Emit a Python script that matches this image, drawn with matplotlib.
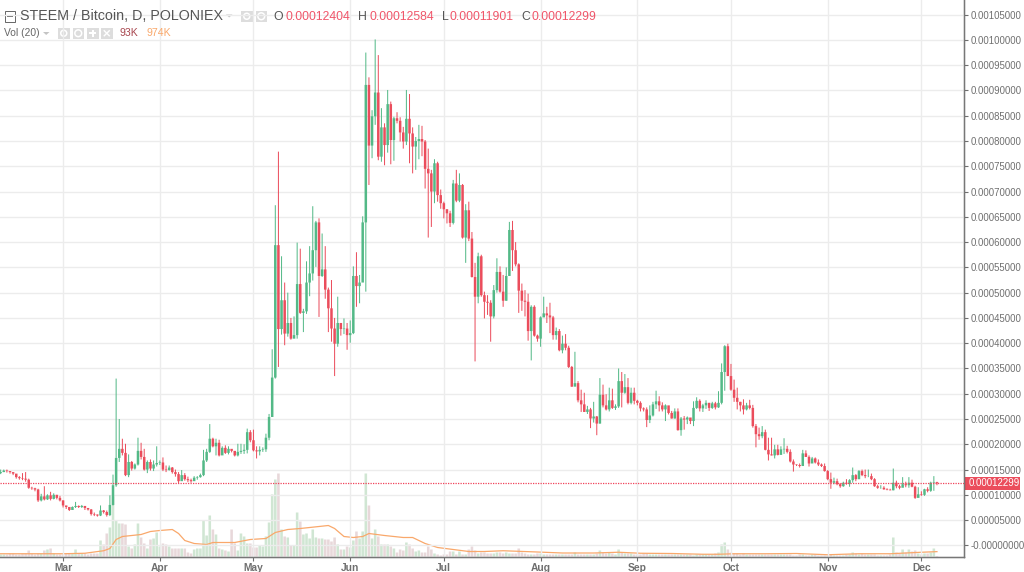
import numpy as np
import pandas as pd
import matplotlib
matplotlib.use("Agg")
import matplotlib.pyplot as plt
from matplotlib.patches import Rectangle, Polygon, Circle

plt.rcParams['font.family'] = ['Liberation Sans', 'DejaVu Sans']

# daily candles, prices in 1e-5 BTC, one row = 10 days
closes = [14.5,14.8,14.7,14.5,14.2,13.5,13.3,13.2,13.0,11.4,
    11.3,11.05,8.9,9.7,9.1,9.9,9.2,10.0,9.4,8.9,
    7.9,7.6,7.0,7.6,7.8,7.6,7.8,7.4,7.1,6.2,
    6.1,5.9,6.9,6.6,6.0,8.0,11.9,17.3,19.1,18.3,
    13.9,16.5,15.2,16,18.7,17.5,15,16.5,15.2,16,
    16.3,16.4,15,14.9,15.4,14.5,14.1,12.7,13.9,13.1,
    12.9,12.7,13.4,13.5,13.9,16.8,18.5,21.1,19.6,20.3,
    17.8,19.3,18.3,19.1,18.7,17.8,18.5,18.7,18.9,22.4,
    20.8,18.8,18.6,18.9,19.0,21.3,25.4,33.2,59.4,42.8,
    48.5,41.9,44,40.9,41.6,51.7,46,46.3,52,53.8,
    58.4,63.9,53.3,54.6,50.6,46.9,42.9,39.9,44,42.8,
    42.9,41.6,42,53.3,51.3,52,63.9,91.1,79.1,84.9,
    89.6,76.9,82.7,79.2,87.3,80.2,84.5,84,81.7,79.9,
    84.4,81.5,78.9,80,80.4,79.9,74.5,73.6,70,75.6,
    69.3,67.7,66.5,65.7,63.8,71.6,68.2,71.3,60.9,66.3,
    60.7,53.1,49.2,57.2,49.5,48.2,48,45.3,50.5,54.1,
    50.2,48.4,53.3,62.4,58.4,55.6,50.4,48.4,48.2,42.4,
    47.2,41.5,40.9,45.1,45.9,45.5,45.1,41.6,42.4,38.6,
    39.9,39.1,35.3,31.4,32.1,28.7,27.9,26.4,26.9,25.1,
    25.5,24.1,29.8,27.7,26.9,28.7,27.2,27.5,32.5,30.2,
    31.3,28.2,30.2,28.6,28.2,27.1,26.9,24.8,25.7,27.9,
    28.5,27.7,26.9,27.7,26.2,25.1,26.5,22.8,25.1,24.9,
    25.3,24.6,27.2,28.6,27.1,27.7,28.2,27.2,28.1,27.3,
    28.2,34.3,39.4,33.5,30.8,29.2,28.4,27.7,26.9,27.7,
    27.2,23.6,22,21.6,22.4,18.9,18,17.8,19,17.9,
    19,19.1,18.5,16.6,16,15.9,15.7,18.2,17.5,16.2,
    17.2,16.4,16,15.7,14.7,13.1,12.4,12.7,12.1,11.7,
    12.4,12.2,12.9,13.9,13.1,14.7,13.9,13.7,13.7,13.1,
    11.7,11.4,11.4,11.1,11,10.9,12.4,11.7,11.4,12.1,
    11.9,12.4,11.6,9.4,10.1,10,11.1,10.8,12.4,12.5,
    12.299]
highs = [15.0,15.0,15.0,14.7,14.4,14.0,13.7,14.3,14.5,13.2,
    11.6,11.4,11.2,10.2,11.7,10.1,10.6,10.3,10.0,9.8,
    8.9,7.8,7.5,7.7,8.6,7.9,8.0,7.8,7.4,7.2,
    6.5,6.1,7.9,7.0,6.9,9.9,14.0,33.0,25.0,21.1,
    20.1,18,16.7,16.2,21.3,20.3,19.1,16.8,17,16.8,
    19.6,16.8,17.4,15.8,15.8,15.5,15.0,14.5,14.9,14.3,
    13.6,13.2,13.7,13.7,14.2,18.9,19.1,24,21.3,21.1,
    20.9,19.6,19.8,19.6,18.9,18.5,20.1,20.1,20.0,23.1,
    22.8,22.9,19.6,19.6,19.4,22.1,26.0,38.8,67.3,77.9,
    57.2,52,50,45,45.3,59.9,58.7,46.8,56.2,59.2,
    67.1,64.2,64.7,61.7,59.2,51.0,52.5,45,49.2,44.0,
    44.9,44,44.5,55.2,58,53.5,65.1,97.5,92.6,86.1,
    100.1,97,86.5,83.5,90.1,87.8,84.8,85.7,84.7,82.8,
    90.1,89.3,82.7,80.8,83.2,83,80.2,78.5,74.3,76.4,
    75.9,70.4,68,66.5,66.2,72.3,74.3,73.6,71.5,67.5,
    68,62,55.9,57.9,57.5,50.2,49.5,48.5,51.5,56.8,
    55.2,53.5,55,64,64.2,60,55.8,51.8,50.5,49.8,
    47.5,47.5,41.7,45.3,49.2,47.2,48,45.4,43.1,42.8,
    41.5,41.8,39.5,35.5,38.3,32.5,30.8,30.2,27.6,27.2,
    28.4,25.6,33.1,31.8,29.9,31.2,31,27.9,35,34.3,
    33.9,33.1,31.2,31.2,28.8,28.5,27.3,27.3,27.7,28.4,
    30.6,29.5,28.3,27.9,27.1,26.6,27.1,27.1,25.4,25.6,
    25.5,25.2,28.5,29.3,28.9,28,28.7,28.2,28.4,28.4,
    30.5,36,39.6,39.9,35.9,32.8,31.2,28.4,28.9,28.2,
    28.8,27.8,24,23.3,23.6,22.9,21.3,21.3,19.9,19.9,
    19.6,21.2,19.7,19,17,16,16.2,18.9,18.8,17.8,
    17.5,17.4,17,16.2,16.2,14.9,14.4,13.4,13.2,12.3,
    12.6,13.1,13.1,15.4,14.1,14.9,15,15,15,14.2,
    13.3,12.0,11.9,11.7,11.3,11.2,15.2,12.8,12,13.5,
    12.6,13.5,13,11.8,11.5,10.7,11.2,11.5,12.6,13.7,
    12.584]
lows = [14.1,14.5,14.4,14.2,13.9,13.2,13.0,12.9,12.6,11.2,
    11.0,10.7,8.6,8.7,8.9,9.0,8.9,9.1,9.1,8.7,
    7.5,7.2,6.8,7.0,7.4,7.4,7.4,7.0,6.9,5.9,
    5.8,5.7,5.8,6.3,5.7,5.8,7.9,11.6,16.5,17.8,
    13.7,13.5,14.8,15.0,15.8,17.0,14.8,14.3,14.8,14.7,
    15.6,15.9,14.7,14.5,14.8,14.2,13.6,12.3,12.8,12.8,
    12.5,12.4,12.8,13.0,13.4,13.7,16.5,18.3,19.4,17.8,
    17.6,18.5,18.1,18.0,18.4,17.6,17.6,18.1,18.1,18.2,
    20.4,18.6,17.2,17.8,18.5,18.5,20.8,27.5,33,35.3,
    41.7,39.6,41.3,40.7,41,40.9,45.8,42.2,45.8,49.3,
    52.4,55.1,45.2,53.1,48.8,42.2,40.3,33.5,39.3,41.5,
    41.8,38.7,40.1,41.8,47.2,47.9,52.9,50.2,71.3,76.6,
    83.2,76.2,75.9,75.2,77.7,75.4,76.1,83.5,79.9,78.5,
    79.2,75.6,73.6,74.3,76.4,77,70.6,60.9,63,67.7,
    68,66.6,64.7,63.7,63,63.5,67.9,67.9,60.7,55.9,
    60.2,53,36.4,47.9,49.2,44.9,45.6,40.3,44.9,50,
    50,47.2,48.4,53.3,54.3,55.2,46,46.4,45.3,40.5,
    36.6,41.3,40.3,39.3,45.2,44,42,40.7,40.7,38.4,
    38,38.6,35.1,31.4,32,28.3,26.4,26.4,26,23.2,
    24.3,21.8,24.1,27.3,26.7,26.5,27,26.8,27.2,27.3,
    30,27.9,27.9,27.9,27.7,26.5,26.5,23.4,24.2,25.5,
    27,26.5,26.5,24.6,25.9,25.1,25.1,22.7,21.7,22.9,
    24.0,24,23.6,27,26.5,26.4,27,26.6,27,26.9,
    27.2,27.9,30.6,33.5,30.6,28.4,26.9,26.5,25.9,26.7,
    26.9,23.3,19.4,20.9,21.2,18.8,16.8,17.8,17.2,17.8,
    18.1,18.1,18.2,16.4,14.6,15.7,15.4,17.5,17.5,15.6,
    17,16.2,15.7,15.5,14.6,12.9,11.2,12.1,11.9,11.4,
    11.6,12,11.6,12.4,12.7,13.1,13.7,13.3,13.5,12.9,
    11.6,11.2,11.2,11,10.9,10.9,10.9,11.3,11.1,11.6,
    11.5,11.4,11.5,9.2,9.5,9.8,9.8,10.5,10.6,10.8,
    11.901]
first_open = 14.3

# volume in millions
volumes = [.4,.4,.4,.6,.6,.4,.4,.6,.6,1.2,
    .6,.4,.6,.6,1.2,1.4,1.6,.6,.4,.4,
    .4,.6,.6,.6,1.4,.6,.6,.6,.4,.6,
    .6,.6,3.2,2.4,4.6,5.8,12,7.2,6.6,6.6,
    6.4,2,1.6,2.4,6.6,3.8,2.6,1.6,3.4,3.6,
    4.8,2,2.6,2.4,2,1.6,1.6,1.6,1.6,1.6,
    .8,.6,1.4,1.6,1.6,7.2,4.2,8.2,5.4,4.4,
    1.6,1.4,1.2,1,5.4,2.6,1.2,4.6,4,2.6,
    2.6,1.8,1.8,2.2,2,4,6.8,12.4,15.4,16.6,
    5.4,4,3.8,2.2,2.2,8.8,7,4.4,4.6,3.6,
    5.4,3.8,3.6,3.6,3.4,3.4,3,3.8,2.4,1.4,
    1.4,2,1.8,3.2,5,3.6,5,16.6,10.2,3.6,
    5.4,4,2.4,2.4,2.4,2,1.6,.8,1.4,1.2,
    2.8,2.4,1.6,1,1.2,.8,.8,2,1.4,.6,
    .4,.2,.4,.4,1,1,.4,1,.4,.4,
    1.4,2,1.2,.6,.8,.8,.6,.6,.6,.8,
    .8,.6,.8,.6,.6,.6,1.6,.8,.6,.4,
    .4,.4,.6,.6,.4,.4,.4,.4,.4,.4,
    .4,.4,.4,.4,.8,.4,.4,.4,.4,.4,
    .4,.6,1.2,.8,.6,.8,.6,.4,1.4,.8,
    .6,.6,.6,.4,.4,.4,.6,.6,.4,.4,
    .4,.4,.4,.4,.4,.4,.4,.4,.4,.4,
    .4,.4,.2,.4,.4,.4,.4,.4,.4,.6,
    .8,2.4,2.8,1.4,.8,.6,.6,.4,.6,.4,
    .4,.4,.4,.4,.4,.4,.4,.4,.4,.4,
    .4,.4,.4,.4,.2,.2,.4,.4,.2,.2,
    .4,.4,.2,.2,.2,.2,.4,.2,.2,.2,
    .2,.4,.4,.8,.6,.4,.6,.4,.4,.4,
    .4,.2,.2,.2,.2,.4,3.8,.8,.6,1.4,
    .8,1.4,1,1.2,.6,.4,.6,.6,.8,1.6,
    .1]

# 20 day volume average, read at these day numbers
ma_days = [0,20,27,33,35,37,39,45,48,51,55,57,59,62,66,68,72,75,80,85,88,92,96,102,105,107,
    110,113,116,118,123,129,132,136,140,145,150,155,161,172,180,190,198,205,215,225,230,
    235,245,255,265,275,285,295,300]
ma_values = [.55,.55,.65,1.15,1.6,3.4,4,4.4,5,5.2,5.4,4.6,3.2,2.6,2.4,2.8,2.8,2.8,3.4,3.6,4.8,5.4,
    5.6,6,6.2,5.6,4,3.8,4,4.6,4.2,3.8,3.8,2.6,1.8,1.4,1,1,1.15,.9,.7,.7,.85,.65,.6,.45,.45,
    .55,.55,.6,.35,.55,.55,.85,.974]

month_names = ['Mar','Apr','May','Jun','Jul','Aug','Sep','Oct','Nov','Dec']
month_starts = pd.date_range('2017-03-01', periods=10, freq='MS')
y_levels = np.arange(0, 106, 5)
last_price = 12.299
header_left = 'STEEM / Bitcoin, D, POLONIEX'
ohlc_letters = ['O', 'H', 'L', 'C']
ohlc_values = ['0.00012404', '0.00012584', '0.00011901', '0.00012299']

W, H = 1024, 572
GREEN, RED = '#53b987', '#eb4d5c'
VOL_GREEN, VOL_RED = '#d0e6d3', '#e8d8da'
GRID, TEXT = '#ececec', '#6f6f6f'

closes = np.array(closes)
opens = np.r_[first_open, closes[:-1]]
highs = np.array(highs)
lows = np.array(lows)
dates = pd.date_range('2017-02-09', periods=len(closes), freq='D')
up = closes >= opens
day = dates[0] + pd.to_timedelta(np.array(ma_days), unit='D')
colors = np.where(up, GREEN, RED)

fig = plt.figure(figsize=(W / 100, H / 100), dpi=100, facecolor='white')
ax = fig.add_axes([0, 1 - 556.5 / H, 963.5 / W, 556.5 / H])
vol = ax.twinx()
ax.set_zorder(2)
ax.patch.set_visible(False)

scale = 1e-5
ax.set_ylim(-2.2 * scale, 107.9 * scale)
ax.set_xlim(dates[0] - pd.Timedelta(hours=5), dates[0] + pd.Timedelta(days=308.5))
vol.set_ylim(0, 111.3)
vol.set_yticks([])
vol.set_zorder(1)

vol_bars = vol.bar(dates, volumes, width=0.82, color=np.where(up, VOL_GREEN, VOL_RED), linewidth=0)
vol.plot(day, ma_values, color='#f9a86b', lw=0.9)

ax.grid(True, color=GRID, lw=1.0, zorder=0)
ax.set_axisbelow(True)
# no snapping, so thin marks fade at fractional pixels like the original
wicks = ax.vlines(dates, lows * scale, highs * scale, colors=colors, lw=0.72, zorder=3)
wicks.set_snap(False)
bodies = ax.bar(dates, np.abs(closes - opens) * scale, bottom=np.minimum(opens, closes) * scale,
                width=0.8, color=colors, linewidth=0, zorder=4)
for patch in list(bodies) + list(vol_bars):
    patch.set_snap(False)
ax.axhline(last_price * scale, color='#f0435a', lw=0.9, ls=(0, (1, 1)), zorder=5)

ax.yaxis.tick_right()
ax.set_yticks(y_levels * scale)
ax.set_yticklabels(['-0.00000000'] + ['%.8f' % (v * scale) for v in y_levels[1:]])
ax.set_xticks(month_starts)
ax.set_xticklabels(month_names, fontweight='bold')
ax.tick_params(axis='y', colors=TEXT, labelsize=6.9, length=3, width=0.8, pad=2)
ax.tick_params(axis='x', colors=TEXT, labelsize=7.4, length=3, width=0.8, pad=2)
for side in ['top', 'left']:
    ax.spines[side].set_visible(False)
    vol.spines[side].set_visible(False)
for side in ['right', 'bottom']:
    ax.spines[side].set_color('#777777')
    ax.spines[side].set_linewidth(1.0)


def px_text(x, y, s, **kw):
    fig.text(x / W, 1 - y / H, s, va='center', ha='left', **kw)


def px_box(x, y, w, h, **kw):
    fig.add_artist(Rectangle((x / W, 1 - (y + h) / H), w / W, h / H, transform=fig.transFigure, **kw))


def px_poly(points, **kw):
    pts = [(x / W, 1 - y / H) for x, y in points]
    fig.add_artist(Polygon(pts, closed=True, transform=fig.transFigure, **kw))


def icon(x, y, kind):
    px_box(x, y, 11.5, 11.5, fc='#dddddd', ec='none')
    cx, cy = x + 5.75, y + 5.75
    if kind in ('eye', 'gear'):
        r = 3.4 if kind == 'gear' else 3.0
        fig.add_artist(Circle((cx, H - cy), r, transform=None, fc='none', ec='white', lw=1.1))
    elif kind == 'plus':
        px_box(cx - 3.5, cy - 0.8, 7, 1.6, fc='white', ec='none')
        px_box(cx - 0.8, cy - 3.5, 1.6, 7, fc='white', ec='none')
    else:
        px_poly([(cx - 3.5, cy - 2.5), (cx - 2.5, cy - 3.5), (cx + 3.5, cy + 2.5), (cx + 2.5, cy + 3.5)], fc='white', ec='none')
        px_poly([(cx + 3.5, cy - 2.5), (cx + 2.5, cy - 3.5), (cx - 3.5, cy + 2.5), (cx - 2.5, cy + 3.5)], fc='white', ec='none')


# last price tag
px_box(964, 476.5, 56, 13.5, fc=RED, ec='none')
px_text(968.5, 483.5, '%.8f' % (last_price * scale), color='white', fontsize=6.9)

# legend rows
px_box(4.5, 11.5, 10, 10, fc='white', ec='#666666', lw=0.7)
px_box(6.5, 16, 6, 1, fc='#666666', ec='none')
px_text(20.5, 16.5, header_left, color='#555555', fontsize=10.3)
px_poly([(226, 14.5), (232.5, 14.5), (229.2, 17.5)], fc='#c4c4c4', ec='none')
icon(241, 10.5, 'eye')
icon(255.5, 10.5, 'gear')
px_text(4, 33, 'Vol (20)', color='#666666', fontsize=7.4)
px_poly([(43, 32), (49.5, 32), (46.2, 35)], fc='#c4c4c4', ec='none')
for x, kind in zip([58, 72.5, 87, 101], ['eye', 'gear', 'plus', 'x']):
    icon(x, 27.5, kind)
px_text(119.5, 33.5, '93K', color='#a8474f', fontsize=7.6)
px_text(146.5, 33.5, '974K', color='#f9a86b', fontsize=7.6)
for lx, vx, letter, value in zip([273.5, 358, 442, 521.5], [285.7, 369, 450, 532], ohlc_letters, ohlc_values):
    px_text(lx, 16.5, letter, color='#555555', fontsize=8.8)
    px_text(vx, 16.5, value, color='#f0566a', fontsize=8.8)

fig.savefig('out.png', dpi=100)
